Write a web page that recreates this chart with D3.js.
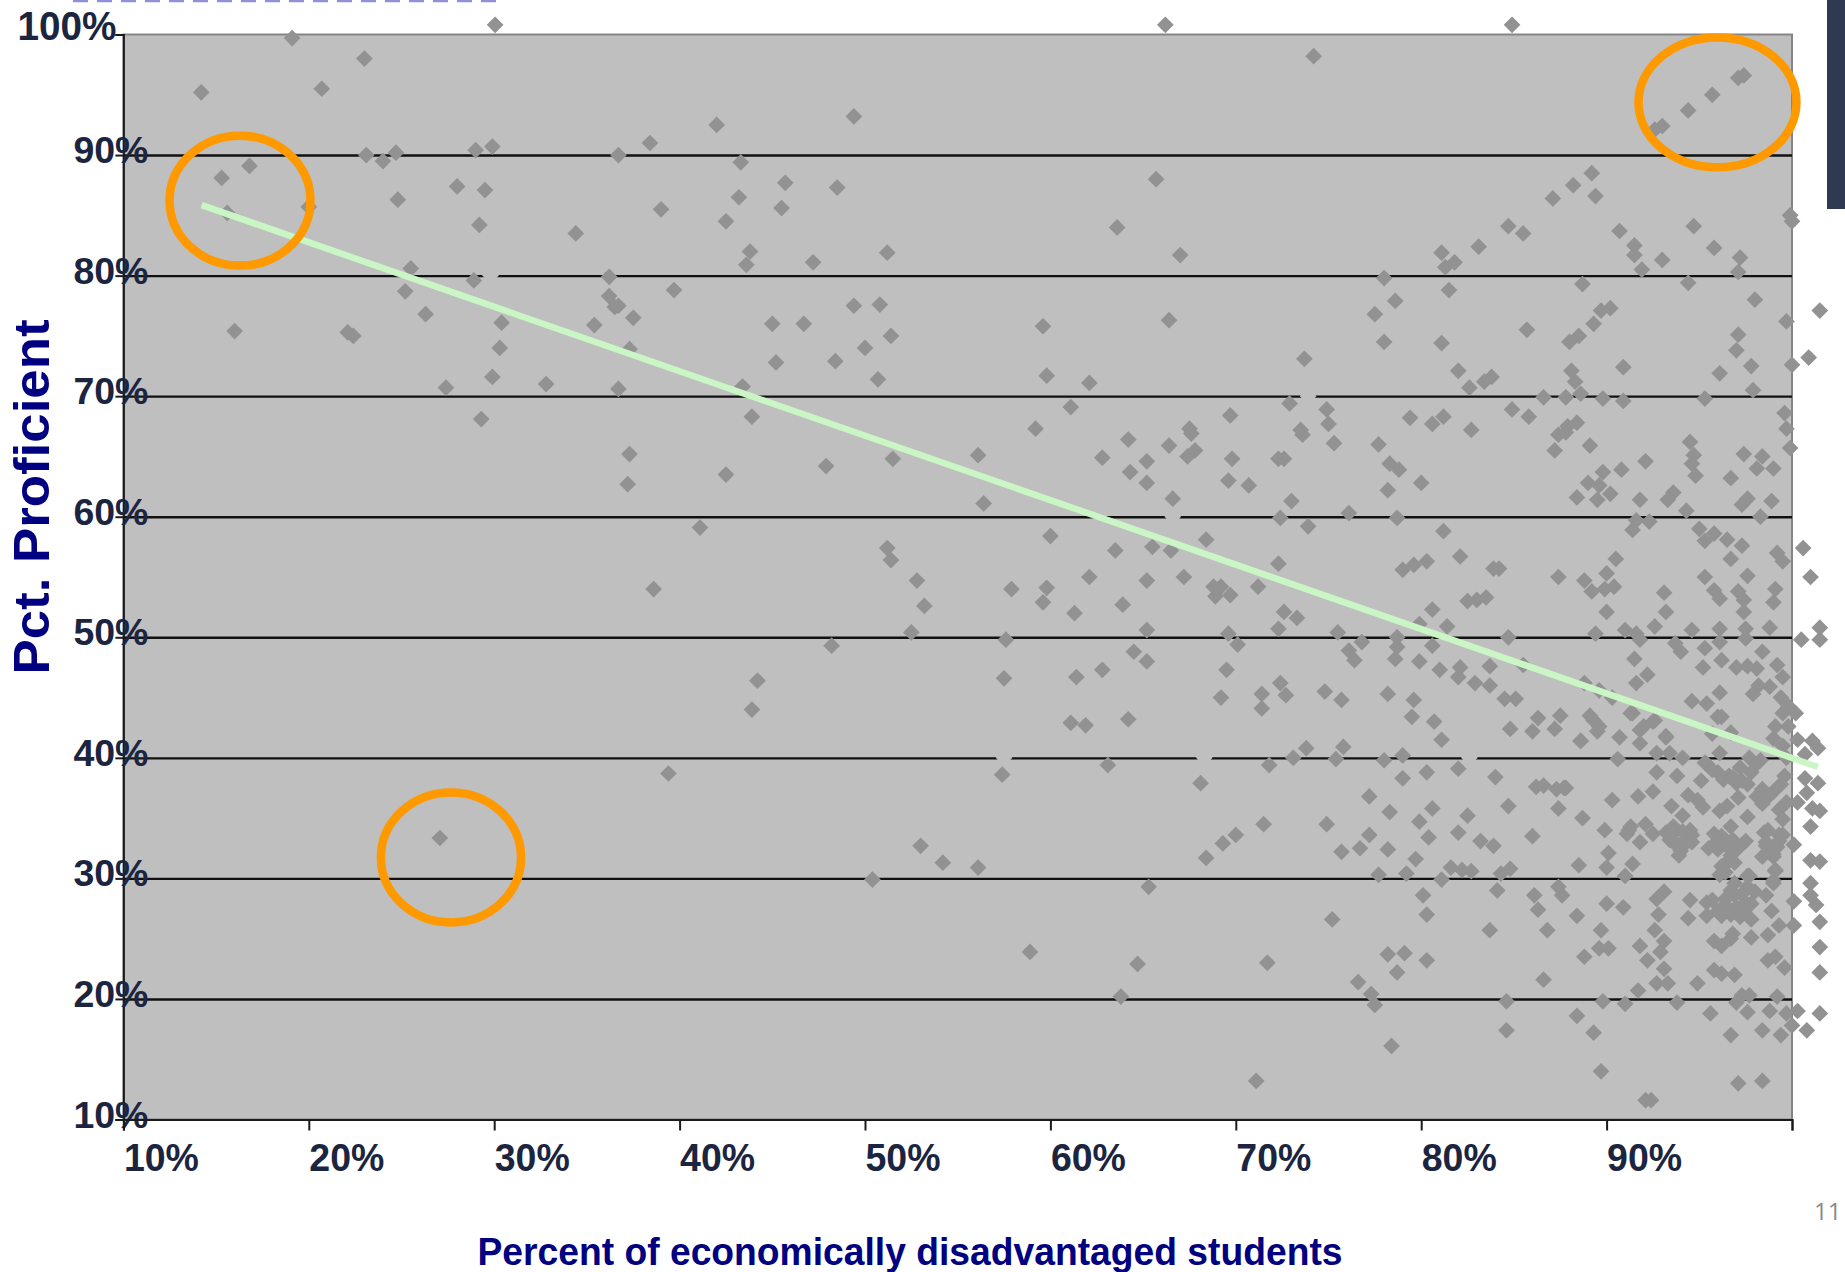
<!DOCTYPE html>
<html><head><meta charset="utf-8">
<script src="https://cdn.jsdelivr.net/npm/d3@7"></script>
<style>html,body{margin:0;padding:0;background:#fff;overflow:hidden}svg{display:block}</style>
</head><body><svg id="c" width="1845" height="1272"></svg>
<script>
const xTicks=[10,20,30,40,50,60,70,80,90,100];
const yTicks=[10,20,30,40,50,60,70,80,90,100];
const xTitle="Percent of economically disadvantaged students";
const yTitle="Pct. Proficient";
const pageNumber="11";
const trendX=[14.22,101.4];
const trendY=[85.85,39.24];
const highlightCx=[16.29,27.67,95.98];
const highlightCy=[86.22,31.74,94.37];
const highlightRx=[3.8,3.78,4.26];
const highlightRy=[5.39,5.39,5.39];
// small places where the gridlines are erased in the source
const gridGaps=[[29.8,80],[73.9,70],[66.6,60],[57.5,40],[68.3,40],[82.6,40]];
const leftSchools=[[14.2,95.2],[15.3,88.1],[16.8,89.1],[15.6,85.2],[20,85.7],[16,75.4],[19.1,99.7],[20.7,95.5],[23,98],[30.05,100.8],[23.1,90],[24,89.5],[24.7,90.2],[24.8,86.3],[25.5,80.6],[25.2,78.7],[26.3,76.8],[22.1,75.3],[22.4,75],[27.4,70.7],[28,87.4],[29,90.4],[29.9,90.7],[29.5,87.1],[29.2,84.2],[28.9,79.6],[30.4,76.1],[30.3,74],[29.9,71.6],[29.3,68.1],[32.8,71],[34.4,83.5],[36.2,79.9],[36.2,78.3],[36.5,77.4],[36.7,77.5],[35.4,75.9],[37.3,73.9],[37.5,76.5],[36.7,70.6],[37.3,65.2],[37.2,62.7],[36.7,90],[38.4,91],[39,85.5],[39.7,78.8],[38.6,54],[39.4,38.7],[41.1,59.1],[42.5,63.5],[42,92.5],[43.3,89.4],[43.2,86.5],[42.5,84.5],[43.8,82],[43.6,80.9],[43.4,70.8],[43.9,68.3],[44.2,46.4],[43.9,44],[45,76],[45.2,72.8],[45.5,85.6],[45.7,87.7],[46.7,76],[27.07,33.35]];
const midUpperSchools=[[49.4,93.2],[74.2,98.2],[66.2,100.8],[48.5,87.3],[65.7,88],[63.6,84],[51.2,81.9],[47.2,81.1],[67,81.7],[49.4,77.5],[50.8,77.6],[51.4,75],[50,74],[48.4,72.9],[50.7,71.4],[59.6,75.8],[66.4,76.3],[73.7,73.1],[59.8,71.7],[62.1,71.1],[61.1,69.1],[72.9,69.4],[69.7,68.4],[67.5,67.3],[73.5,67.2],[59.2,67.3]];
const midLowerSchools=[[47.9,64.2],[51.5,64.8],[56.1,65.1],[56.4,61.1],[62.8,64.9],[64.2,66.4],[64.3,63.7],[65.2,64.6],[65.2,62.8],[66.4,65.9],[67.6,66.9],[67.4,65],[67.8,65.5],[66.6,61.5],[69.8,64.8],[69.6,63],[70.7,62.6],[72.3,64.8],[72.6,64.8],[73.6,66.8],[73,61.3],[72.4,59.9],[73.9,59.2],[60,58.4],[63.5,57.2],[65.5,57.5],[66.5,57.2],[68.4,58.1],[72.3,56.1],[71.2,54.2],[51.2,57.4],[51.4,56.4],[52.8,54.7],[53.2,52.6],[52.5,50.4],[48.2,49.3],[57.9,54],[59.8,54.1],[59.6,52.9],[62.1,55],[61.3,52],[63.9,52.7],[65.2,54.7],[67.2,55],[68.8,54.2],[69.2,54.2],[68.9,53.4],[69.7,53.5],[57.6,49.8],[57.5,46.6],[65.2,50.6],[69.6,50.3],[70.1,49.4],[72.6,52.1],[73.3,51.6],[72.3,50.7],[64.5,48.8],[65.2,48],[62.8,47.3],[61.4,46.7],[69.5,47.3],[69.2,45],[72.4,46.2],[72.7,45.2],[71.4,45.3],[71.4,44.1],[61.1,42.9],[61.9,42.7],[64.2,43.2],[63.1,39.4],[57.4,38.6],[68.1,37.9],[71.8,39.4],[73.1,40],[73.8,40.8],[71.5,34.5],[50.4,29.9],[53,32.7],[54.2,31.3],[56.1,30.9],[58.9,23.9],[65.3,29.3],[64.7,22.9],[63.8,20.2],[68.4,31.7],[69.3,32.9],[70,33.6],[71.1,13.2],[71.7,23]];
const rightUpperSchools=[[84.9,100.8],[97.4,96.6],[97.1,96.4],[95.7,95],[94.4,93.7],[93,92.4],[92.6,92.1],[89.2,88.5],[88.2,87.5],[89.4,86.6],[87.1,86.4],[84.7,84.1],[85.5,83.5],[90.7,83.7],[94.7,84.1],[99.9,85],[100,84.5],[91.5,82.5],[91.5,81.7],[95.8,82.3],[97.2,81.5],[93,81.3],[91.9,80.5],[97.1,80.3],[94.4,79.4],[83.1,82.4],[81.1,81.9],[81.8,81.1],[81.3,80.7],[78,79.8],[81.5,78.8],[88.7,79.3],[78.6,77.9],[77.5,76.8],[98,78],[101.5,77.1],[90.2,77.3],[89.7,77.1],[89.3,76],[99.7,76.2],[85.7,75.5],[78,74.5],[81.1,74.4],[88.5,75],[88,74.5],[97.1,75.1],[97,73.8],[100.9,73.2],[100,72.6],[97.8,72.5],[90.9,72.4],[96.1,71.9],[82,72.1],[82.6,70.7],[83.4,71.2],[83.8,71.6],[88.1,72.1],[88.3,71.2],[86.6,69.9],[87.8,69.9],[88.6,70.2],[89.8,69.8],[90.9,69.6],[95.3,69.8],[97.9,70.5],[84.9,68.9],[85.8,68.3],[74.9,68.9],[75,67.7],[79.4,68.2],[80.6,67.7],[81.2,68.3],[99.6,68.6],[99.7,67.3],[88.4,67.8],[87.9,67.5],[82.7,67.2]];
const rightMiddleSchools=[[75.3,66.1],[77.7,66],[78.3,64.4],[78.8,63.9],[78.2,62.2],[80,62.8],[76.1,60.3],[78.7,59.9],[81.2,58.8],[82.1,56.7],[80.3,56.3],[79.6,56],[79,55.6],[83.9,55.7],[84.2,55.7],[82.5,53],[83,53.1],[83.5,53.3],[80.6,52.3],[75.5,50.4],[76.8,49.6],[78.7,50],[84.7,50],[79.9,51.1],[81.4,50.9],[80.6,49.3],[76.1,48.9],[76.4,48.1],[78.7,49.2],[78.6,48.2],[79.9,48],[81,47.3],[82.1,47.5],[82,46.7],[82.9,46.2],[83.7,46],[83.7,47.6],[85.5,47.7],[85.1,44.9],[84.5,44.9],[74.8,45.5],[75.7,44.8],[78.2,45.3],[79.6,44.8],[79.5,43.4],[80.7,43],[81.1,41.5],[84.8,42.4],[86,42.2],[86.3,43.3],[87.2,42.4],[87.5,43.5],[88.6,41.4],[75.8,40.9],[75.4,39.9],[78,39.8],[79,40.2],[79,38.3],[80.3,38.8],[82,39.1],[84,38.4],[86.2,37.6],[86.6,37.7],[87.3,37.4],[87.8,37.5],[77.2,36.8],[78.3,35.5],[80.6,35.8],[79.9,34.7],[82.5,35.2],[84.7,36],[87.4,35.8],[88.7,35],[74.9,34.5],[89.1,65.9],[87.2,65.5],[87.4,66.8],[87.8,67],[94.5,66.2],[94.7,65.1],[94.6,64.4],[94.8,63.4],[92.1,64.6],[90.8,63.9],[89.8,63.7],[89.6,62.6],[89,62.8],[90.2,61.9],[89.5,61.4],[88.4,61.6],[91.8,61.4],[93.6,62],[93.3,61.4],[96.7,63.2],[97.4,65.2],[98.4,65],[98.1,64],[99,64],[99.9,65.7],[97.6,61.5],[97.3,61],[98.9,61.3],[94.3,60.5],[91.6,59.7],[92.3,59.6],[91.4,58.9],[95,59],[95.3,58],[95.8,58.6],[96.5,58.1],[98.3,60],[99.2,57],[99.5,56.3],[97.3,57.6],[96.7,56.5],[90.5,56.5],[90,55.3],[90.4,54.2],[89.9,54],[88.8,54.7],[89.2,53.8],[87.4,55],[93.1,53.7],[93.2,52.1],[90,52.1],[95.3,55],[95.8,53.9],[96.1,53.2],[97.6,55.1],[97.1,53.8],[97.4,53.1],[99.1,54],[99,52.9],[97.4,52.1],[97.5,50.7],[98.8,50.8],[96.1,50.7],[94.6,50.6],[92.6,50.9],[91,50.6],[91.6,50.3],[91.8,49.8],[89.4,50.3],[97.5,49.9],[96.1,49.6],[95.3,49.1],[93.7,49.5],[94,48.8],[95.2,47.5],[96.2,48.1],[98.4,48.8],[91.5,48.2],[92.2,46.9],[91.6,46.2],[94.6,44.7],[95.4,44.5],[96.1,45.4],[97,47.5],[97.6,47.6],[98.1,47.4],[99.2,47.7],[99.5,46.7],[98.8,45.9],[98.2,46],[97.9,45.3],[99.4,45],[99.5,43.7],[91.4,43.7],[90.3,45],[89.6,45.6],[88.8,46.2],[96,43.4],[96.2,43.4],[96.7,42.1],[95.7,42],[92.6,43.1],[92,42.6],[93.2,41.7],[99,41.6],[99.1,42.6],[99.8,42.6]];
const denseSchools=[[89.3,43.1],[89.6,42.6],[89.1,43.5],[89.5,42.2],[88.6,41.4],[90.7,41.7],[91.8,42.3],[92.5,43],[91.8,41.2],[93.2,41.8],[91.3,43.7],[90.6,39.9],[92.7,40.4],[93.4,40.4],[94.1,40],[95.3,39.6],[96.1,40.4],[97.7,40],[98.3,39.8],[92.7,38.8],[93.8,38.5],[95.1,38.1],[96,38.8],[96.6,38.5],[97.3,38.1],[99.6,38.5],[95.4,39.5],[96.8,38.4],[97.2,39.2],[87.7,37.5],[90.3,36.5],[91.7,36.8],[92.5,37.2],[94.4,36.9],[94.9,36.5],[93.5,36],[94.1,35.2],[95.2,35.9],[96.1,35.6],[96.5,36],[97.1,36.7],[98.4,37.4],[99,37.2],[98.4,36.2],[99.7,36.3],[97.6,35.1],[99.5,34.9],[89.9,34],[91.2,34],[92.1,34.5],[92.5,33.7],[91.8,33],[93.7,34.1],[94.4,33.3],[93.4,33.2],[94,32.3],[95.8,33.7],[96.7,34.3],[97.5,33.1],[97.1,32.5],[98.5,33.8],[99.3,33.6],[98.6,32.7],[100.1,32.8],[99,31.8],[96.7,31.9],[90.1,32.1],[90,30.9],[88.5,31.1],[91.4,31.2],[91,30.2],[96.3,31],[97.6,30.2],[99.1,30.7],[99,29.6],[96.9,32.3],[96.6,31.5],[96.2,31],[98.6,33],[99.3,33.1],[99,32],[99.1,30.6],[91.1,33.7],[91.3,34.3],[93.6,34.3],[95.9,33],[95.5,32.5],[75.7,32.2],[76.7,32.5],[77.2,33.6],[78.2,32.4],[80.4,33.4],[82,33.8],[79.7,31.6],[83.2,33.1],[83.9,32.7],[86,33.5],[77.7,30.3],[79.2,30.4],[81.1,29.9],[81.6,30.9],[82.2,30.7],[82.7,30.6],[84.3,30.4],[84.8,30.8],[84.1,29],[80.1,28.6],[80.3,27],[75.2,26.6],[83.7,25.7],[86.1,28.6],[86.3,27.4],[87.4,29.3],[87.6,28.6],[88.4,26.9],[86.8,25.7],[78.2,23.7],[79.1,23.8],[80.3,23.2],[78.7,22.2],[76.6,21.4],[77.3,20.4],[77.5,19.5],[84.6,19.8],[84.6,17.4],[86.6,21.6],[78.4,16.1],[88.4,18.6],[89.3,17.2],[89.7,14],[89.8,19.8],[91,19.6],[93.8,19.7],[91.7,20.7],[92.7,21.3],[93.3,21.3],[94.9,21.3],[93.1,22.5],[92.2,23.2],[91.8,24.4],[92.9,23.9],[93.1,24.8],[92.6,25.7],[88.8,23.5],[89.7,25.7],[89.6,24.2],[90.1,24.2],[90,27.9],[90.9,27.6],[92.8,27],[92.7,28.3],[93.1,28.9],[94.5,28.2],[94.4,26.7],[95.4,28],[95.7,28.2],[95.4,26.9],[96.4,27.8],[96.9,28.6],[97.3,28.7],[97.7,30.2],[96.7,27],[97.8,26.6],[97.4,27.2],[98.6,28.6],[98.9,27.3],[99.3,26.1],[100.1,26.1],[100.1,28.1],[99,29.8],[97.8,25.1],[98.7,25.3],[96.8,25.4],[95.8,24.8],[96.2,24.4],[96.7,25],[98.7,23.2],[99.1,23.5],[99.6,22.6],[95.8,22.4],[96.2,22.1],[96.9,22],[97.3,20.3],[97,19.7],[97.7,20.3],[99.2,20.2],[97.6,18.9],[98.8,19],[99.7,18.8],[100.3,19],[95.6,18.8],[96.7,17],[98.4,17.4],[99.4,17],[100,17.8],[100.8,17.4],[101.5,18.8],[97.1,13],[98.4,13.2],[92.1,11.6],[92.4,11.6]];
const clusterSchools=[[96,32.4],[96.2,33.5],[96.4,32.8],[96.8,33.2],[96.4,30.5],[96.1,30.3],[98.7,34],[99.2,32.6],[98.4,31.8],[99.5,33.6],[93.2,33.8],[93.6,33],[94.2,32.8],[94.6,33.6],[93.9,31.9],[94.5,34],[96,27.3],[96.4,28.3],[96.7,29],[97,27.6],[97.5,28],[97.8,27.9],[98,28.9],[96.2,26.9],[97.2,26.8],[97.6,29.3],[96.9,29.6],[95.7,39],[96.3,38.2],[97,37.9],[97.6,37.8],[97.8,38.8],[98.1,39.5],[98.8,36.9],[98.1,36.8],[99.4,37.8],[99.3,35.7],[99.5,41],[99.7,40],[99.8,44.3],[93.5,33.6],[94.1,33.9],[94.6,33],[93.9,32.8],[96.4,33.2],[97,32.8],[96.9,31.3],[96.3,30.6]];
const outsideSchools=[[100.2,43.7],[100.3,41.5],[101.1,41.4],[101.4,40.8],[100.7,40.3],[100.7,38.3],[101.4,37.9],[100.8,37.1],[100.3,36.3],[101.1,35.8],[101.5,35.6],[101,34.3],[101,31.5],[101.5,31.4],[101,29.6],[101,28.6],[101.3,27.8],[101.5,26.4],[101.5,24.3],[101.5,22.2],[100.6,57.4],[101,55],[101.5,50.8],[101.5,49.8],[100.5,49.8]];

const svg=d3.select("#c");
const x=d3.scaleLinear().domain([10,100]).range([123.4,1792]);
const y=d3.scaleLinear().domain([10,100]).range([1119.5,34.5]);
const font="'Liberation Sans',Arial,sans-serif";

// clipped remnant of the slide heading and slide furniture
svg.append("line").attr("x1",73).attr("x2",505).attr("y1",1).attr("y2",1)
  .attr("stroke","#8f8fdc").attr("stroke-width",2.5).attr("stroke-dasharray","15 9");
svg.append("rect").attr("x",1827).attr("y",0).attr("width",18).attr("height",209).attr("fill","#2f3a52");

// plot area
svg.append("rect").attr("x",x(10)).attr("y",y(100)).attr("width",x(100)-x(10)).attr("height",y(10)-y(100))
  .attr("fill","#bfbfbf").attr("stroke","#858585").attr("stroke-width",2);

// gridlines
const grid=svg.append("g").attr("transform",`translate(${x(10)},0)`)
  .call(d3.axisLeft(y).tickValues(yTicks.slice(1,-1)).tickSizeInner(-(x(100)-x(10))).tickSizeOuter(0).tickFormat(""));
grid.select(".domain").remove();
grid.selectAll("line").attr("stroke","#111").attr("stroke-width",2.4);

const diamond=d3.symbol().type(d3.symbolSquare).size(140);
svg.append("g").selectAll("path").data(gridGaps).join("path").attr("d",diamond)
  .attr("transform",d=>`translate(${x(d[0])},${y(d[1])}) rotate(45)`).attr("fill","#bfbfbf");

// schools
const schools=[...leftSchools,...midUpperSchools,...midLowerSchools,...rightUpperSchools,...rightMiddleSchools,...denseSchools,...clusterSchools,...outsideSchools];
svg.append("g").selectAll("path").data(schools).join("path").attr("d",diamond)
  .attr("transform",d=>`translate(${x(d[0])},${y(d[1])}) rotate(45)`).attr("fill","#929292");

// trend line
svg.append("path").datum(trendX.map((v,i)=>[v,trendY[i]]))
  .attr("d",d3.line().x(d=>x(d[0])).y(d=>y(d[1])))
  .attr("fill","none").attr("stroke","#c9f6c4").attr("stroke-width",6.5);

// axes
const yAxis=svg.append("g").attr("transform",`translate(${x(10)},0)`)
  .call(d3.axisLeft(y).tickValues(yTicks).tickSize(8).tickFormat(d=>d+"%"));
yAxis.select(".domain").attr("stroke","#1a1a1a").attr("stroke-width",2);
yAxis.selectAll("line").attr("stroke","#1a1a1a").attr("stroke-width",2);
yAxis.selectAll("text").attr("font-family",font).attr("font-weight","bold").attr("fill","#1b2540")
  .attr("text-anchor","end").attr("dy",0)
  .attr("font-size",d=>d===100?40:37).attr("x",d=>d===100?-7:25).attr("y",d=>d===100?4.5:7.5)
  .attr("textLength",d=>d===100?99:75).attr("lengthAdjust","spacingAndGlyphs");

const xAxis=svg.append("g").attr("transform",`translate(0,${y(10)})`)
  .call(d3.axisBottom(x).tickValues(xTicks).tickSize(11).tickFormat(d=>d<100?d+"%":""));
xAxis.select(".domain").attr("stroke","#1a1a1a").attr("stroke-width",2);
xAxis.selectAll("line").attr("stroke","#1a1a1a").attr("stroke-width",2);
xAxis.selectAll("text").attr("font-family",font).attr("font-weight","bold").attr("fill","#1b2540")
  .attr("text-anchor","start").attr("font-size",38).attr("dy",0).attr("x",0).attr("y",51)
  .attr("textLength",d=>d<100?75:null).attr("lengthAdjust","spacingAndGlyphs");

// highlight rings
svg.append("g").selectAll("ellipse").data(highlightCx).join("ellipse")
  .attr("cx",d=>x(d)).attr("cy",(d,i)=>y(highlightCy[i]))
  .attr("rx",(d,i)=>x(10+highlightRx[i])-x(10)).attr("ry",(d,i)=>y(100-highlightRy[i])-y(100))
  .attr("fill","none").attr("stroke","#ff9900").attr("stroke-width",8.5);

// titles
svg.append("text").attr("x",910).attr("y",1265).attr("text-anchor","middle")
  .attr("font-family",font).attr("font-weight","bold").attr("font-size",38).attr("fill","#000080")
  .attr("textLength",865).attr("lengthAdjust","spacingAndGlyphs").text(xTitle);
svg.append("text").attr("transform","translate(49,497) rotate(-90)").attr("text-anchor","middle")
  .attr("font-family",font).attr("font-weight","bold").attr("font-size",50).attr("fill","#000080")
  .attr("textLength",355).attr("lengthAdjust","spacingAndGlyphs").text(yTitle);
svg.append("text").attr("x",1814).attr("y",1220).attr("font-family","'Open Sans',sans-serif")
  .attr("font-size",24).attr("fill","#8a8a8a").text(pageNumber);
</script></body></html>
